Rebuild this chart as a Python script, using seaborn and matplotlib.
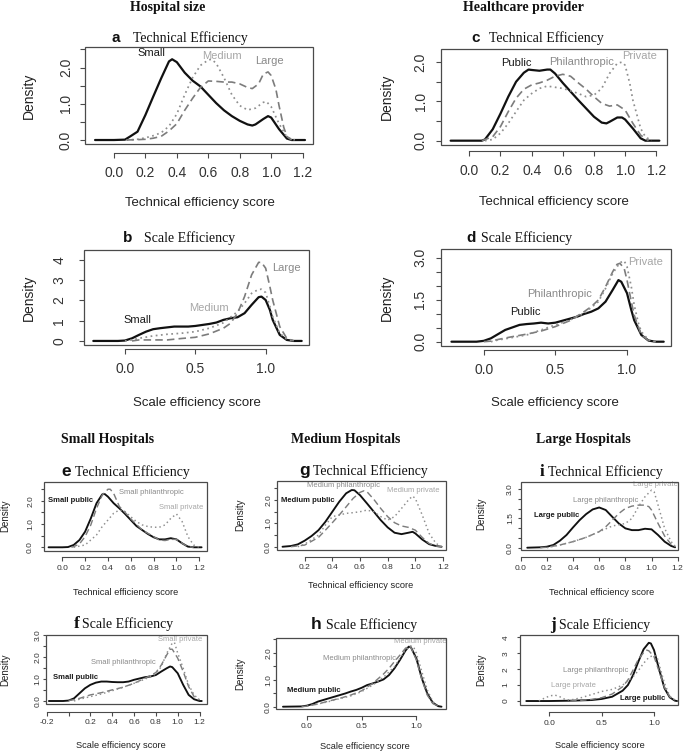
import matplotlib
matplotlib.use("Agg")
import matplotlib.pyplot as plt
from matplotlib.patches import Rectangle
import pandas as pd
import seaborn as sns

# ------------------------------------------------------------------ data
# Tick values / labels
TE_XTICKS = [0.0, 0.2, 0.4, 0.6, 0.8, 1.0, 1.2]
TE_XLABELS = ["0.0", "0.2", "0.4", "0.6", "0.8", "1.0", "1.2"]
SE_XTICKS = [0.0, 0.5, 1.0]
SE_XLABELS = ["0.0", "0.5", "1.0"]
G_XTICKS = [0.2, 0.4, 0.6, 0.8, 1.0, 1.2]
G_XLABELS = ["0.2", "0.4", "0.6", "0.8", "1.0", "1.2"]
F_XTICKS = [-0.2, 0.0, 0.2, 0.4, 0.6, 0.8, 1.0, 1.2]
F_XLABELS = ["-0.2", "", "0.2", "0.4", "0.6", "0.8", "1.0", "1.2"]

Y25_TICKS = [0.0, 0.5, 1.0, 1.5, 2.0, 2.5]
Y25_LABELS = ["0.0", "", "1.0", "", "2.0", ""]
Y20_TICKS = [0.0, 0.5, 1.0, 1.5, 2.0]
Y20_LABELS = ["0.0", "", "1.0", "", "2.0"]
Y4_TICKS = [0, 1, 2, 3, 4]
Y4_LABELS = ["0", "1", "2", "3", "4"]
Y30_TICKS = [0.0, 0.5, 1.0, 1.5, 2.0, 2.5, 3.0]
Y30_LABELS = ["0.0", "", "", "1.5", "", "", "3.0"]
Y30F_LABELS = ["0.0", "", "1.0", "", "2.0", "", "3.0"]

# a  Technical efficiency by hospital size
A_SMALL_X = [-0.12, 0.0, 0.07, 0.10, 0.15, 0.20, 0.25, 0.30, 0.35, 0.37, 0.40, 0.45, 0.50, 0.55, 0.60, 0.65, 0.70, 0.75, 0.80, 0.85, 0.88, 0.90, 0.95, 0.98, 1.00, 1.05, 1.10, 1.13, 1.215]
A_SMALL_Y = [0, 0, 0.01, 0.09, 0.23, 0.69, 1.20, 1.70, 2.17, 2.23, 2.15, 1.86, 1.64, 1.48, 1.25, 1.02, 0.82, 0.66, 0.53, 0.43, 0.40, 0.43, 0.58, 0.66, 0.62, 0.30, 0.04, 0.0, 0.0]
A_MED_X = [0.08, 0.15, 0.20, 0.25, 0.30, 0.35, 0.40, 0.45, 0.50, 0.55, 0.60, 0.62, 0.65, 0.70, 0.75, 0.80, 0.85, 0.90, 0.95, 0.97, 1.00, 1.05, 1.10, 1.15]
A_MED_Y = [0, 0.02, 0.06, 0.12, 0.20, 0.38, 0.72, 1.25, 1.72, 2.06, 2.21, 2.23, 2.12, 1.72, 1.25, 0.95, 0.83, 0.88, 1.04, 1.06, 0.92, 0.45, 0.08, 0.0]
A_LARGE_X = [0.08, 0.15, 0.20, 0.25, 0.30, 0.35, 0.40, 0.45, 0.50, 0.55, 0.60, 0.65, 0.70, 0.75, 0.80, 0.85, 0.88, 0.92, 0.95, 0.98, 1.00, 1.03, 1.05, 1.08, 1.10, 1.13]
A_LARGE_Y = [0, 0.01, 0.02, 0.05, 0.10, 0.25, 0.45, 0.82, 1.15, 1.45, 1.63, 1.62, 1.60, 1.60, 1.55, 1.45, 1.42, 1.55, 1.82, 1.88, 1.78, 1.40, 0.95, 0.35, 0.10, 0.0]

# c  Technical efficiency by provider
C_PUB_X = [-0.12, 0.0, 0.08, 0.10, 0.15, 0.20, 0.25, 0.30, 0.35, 0.38, 0.40, 0.45, 0.50, 0.52, 0.55, 0.60, 0.65, 0.70, 0.75, 0.80, 0.85, 0.88, 0.90, 0.95, 0.98, 1.00, 1.05, 1.10, 1.13, 1.22]
C_PUB_Y = [0, 0, 0, 0.03, 0.29, 0.69, 1.12, 1.50, 1.73, 1.81, 1.80, 1.78, 1.81, 1.81, 1.71, 1.47, 1.25, 1.03, 0.82, 0.61, 0.46, 0.44, 0.48, 0.59, 0.59, 0.54, 0.31, 0.06, 0.0, 0.0]
C_PHIL_X = [0.08, 0.15, 0.20, 0.25, 0.30, 0.35, 0.40, 0.45, 0.50, 0.55, 0.60, 0.65, 0.70, 0.75, 0.80, 0.85, 0.90, 0.95, 1.00, 1.05, 1.10, 1.15]
C_PHIL_Y = [0, 0.10, 0.36, 0.74, 1.08, 1.31, 1.42, 1.47, 1.54, 1.64, 1.69, 1.64, 1.47, 1.31, 1.12, 0.95, 0.88, 0.91, 0.78, 0.44, 0.14, 0.0]
C_PRIV_X = [0.10, 0.15, 0.20, 0.25, 0.30, 0.35, 0.40, 0.45, 0.50, 0.55, 0.60, 0.65, 0.70, 0.75, 0.80, 0.85, 0.90, 0.95, 0.98, 1.00, 1.03, 1.05, 1.10, 1.13, 1.17]
C_PRIV_Y = [0, 0.03, 0.19, 0.44, 0.74, 1.03, 1.20, 1.33, 1.39, 1.36, 1.33, 1.27, 1.20, 1.12, 1.16, 1.33, 1.71, 1.97, 2.00, 1.92, 1.46, 1.03, 0.31, 0.10, 0.0]

# b  Scale efficiency by hospital size
B_SMALL_X = [-0.225, -0.05, 0.0, 0.05, 0.10, 0.15, 0.20, 0.25, 0.30, 0.35, 0.40, 0.45, 0.50, 0.55, 0.60, 0.65, 0.70, 0.75, 0.80, 0.85, 0.90, 0.95, 0.97, 1.00, 1.03, 1.05, 1.10, 1.15, 1.20, 1.256]
B_SMALL_Y = [0, 0, 0.02, 0.13, 0.30, 0.46, 0.58, 0.63, 0.67, 0.71, 0.71, 0.71, 0.74, 0.79, 0.84, 0.91, 1.04, 1.12, 1.17, 1.37, 1.78, 2.16, 2.19, 2.02, 1.53, 1.04, 0.30, 0.05, 0.0, 0.0]
B_MED_X = [0.0, 0.05, 0.10, 0.20, 0.30, 0.40, 0.50, 0.60, 0.70, 0.75, 0.80, 0.85, 0.90, 0.95, 0.97, 1.00, 1.03, 1.05, 1.10, 1.15, 1.20]
B_MED_Y = [0, 0.05, 0.13, 0.25, 0.33, 0.38, 0.46, 0.63, 0.90, 1.17, 1.45, 1.86, 2.35, 2.55, 2.55, 2.39, 1.70, 1.20, 0.38, 0.08, 0.0]
B_LARGE_X = [0.05, 0.10, 0.20, 0.30, 0.40, 0.50, 0.60, 0.70, 0.75, 0.80, 0.85, 0.90, 0.95, 0.97, 1.00, 1.03, 1.05, 1.10, 1.15, 1.20]
B_LARGE_Y = [0, 0.05, 0.05, 0.05, 0.12, 0.18, 0.35, 0.63, 0.87, 1.37, 2.19, 3.26, 3.88, 3.88, 3.59, 2.68, 2.02, 0.71, 0.13, 0.0]

# d  Scale efficiency by provider
D_PUB_X = [-0.225, -0.05, 0.0, 0.05, 0.10, 0.15, 0.20, 0.25, 0.30, 0.35, 0.40, 0.45, 0.50, 0.55, 0.60, 0.65, 0.70, 0.75, 0.80, 0.85, 0.90, 0.94, 0.96, 1.00, 1.03, 1.05, 1.10, 1.15, 1.20, 1.256]
D_PUB_Y = [0, 0, 0.03, 0.12, 0.27, 0.42, 0.51, 0.60, 0.63, 0.65, 0.68, 0.65, 0.68, 0.75, 0.82, 0.89, 0.99, 1.07, 1.19, 1.43, 1.85, 2.20, 2.14, 1.73, 1.13, 0.77, 0.24, 0.04, 0.0, 0.0]
D_PHIL_X = [0.0, 0.05, 0.10, 0.20, 0.30, 0.40, 0.50, 0.60, 0.70, 0.75, 0.80, 0.85, 0.90, 0.93, 0.95, 0.98, 1.00, 1.03, 1.05, 1.10, 1.15, 1.20]
D_PHIL_Y = [0, 0.02, 0.08, 0.18, 0.27, 0.38, 0.54, 0.75, 1.07, 1.25, 1.49, 1.96, 2.50, 2.76, 2.80, 2.62, 2.20, 1.43, 0.95, 0.24, 0.04, 0.0]
D_PRIV_X = [0.05, 0.10, 0.20, 0.30, 0.40, 0.50, 0.60, 0.70, 0.80, 0.85, 0.90, 0.95, 0.98, 1.00, 1.03, 1.05, 1.08, 1.10, 1.15, 1.20]
D_PRIV_Y = [0, 0.06, 0.15, 0.24, 0.42, 0.60, 0.77, 1.01, 1.43, 1.90, 2.44, 2.82, 2.89, 2.68, 1.96, 1.31, 0.65, 0.36, 0.06, 0.0]

# e  Small hospitals, technical efficiency
E_PUB_X = [-0.12, 0.0, 0.05, 0.10, 0.15, 0.20, 0.25, 0.30, 0.35, 0.37, 0.40, 0.45, 0.50, 0.55, 0.60, 0.65, 0.70, 0.75, 0.80, 0.85, 0.90, 0.95, 1.00, 1.05, 1.10, 1.15, 1.22]
E_PUB_Y = [0, 0, 0.01, 0.10, 0.31, 0.67, 1.24, 1.89, 2.27, 2.29, 2.17, 1.89, 1.67, 1.43, 1.17, 0.91, 0.74, 0.57, 0.43, 0.34, 0.34, 0.39, 0.34, 0.17, 0.03, 0.0, 0.0]
E_PHIL_X = [0.08, 0.10, 0.15, 0.20, 0.25, 0.30, 0.35, 0.40, 0.42, 0.45, 0.50, 0.55, 0.60, 0.70, 0.80, 0.85, 0.90, 0.95, 1.00, 1.05, 1.10, 1.15]
E_PHIL_Y = [0, 0.03, 0.14, 0.46, 0.96, 1.67, 2.24, 2.49, 2.49, 2.31, 1.75, 1.50, 1.22, 0.74, 0.46, 0.31, 0.29, 0.34, 0.34, 0.17, 0.03, 0.0]
E_PRIV_X = [0.10, 0.20, 0.30, 0.35, 0.40, 0.45, 0.50, 0.55, 0.60, 0.65, 0.70, 0.75, 0.80, 0.85, 0.90, 0.95, 1.00, 1.05, 1.10, 1.15, 1.20]
E_PRIV_Y = [0, 0.10, 0.53, 0.89, 1.17, 1.46, 1.60, 1.53, 1.31, 1.10, 0.96, 0.89, 0.86, 0.86, 0.96, 1.24, 1.43, 1.10, 0.46, 0.10, 0.0]

# g  Medium hospitals, technical efficiency
G_PUB_X = [0.04, 0.10, 0.15, 0.20, 0.25, 0.30, 0.35, 0.40, 0.45, 0.50, 0.54, 0.56, 0.60, 0.65, 0.70, 0.75, 0.80, 0.85, 0.90, 0.95, 0.98, 1.00, 1.05, 1.10, 1.15, 1.19]
G_PUB_Y = [0, 0.03, 0.10, 0.26, 0.46, 0.71, 1.07, 1.50, 1.93, 2.29, 2.43, 2.42, 2.21, 1.86, 1.50, 1.14, 0.83, 0.60, 0.54, 0.60, 0.64, 0.57, 0.31, 0.11, 0.03, 0.0]
G_PHIL_X = [0.10, 0.20, 0.30, 0.35, 0.40, 0.45, 0.50, 0.55, 0.60, 0.63, 0.65, 0.70, 0.75, 0.80, 0.85, 0.90, 0.95, 1.00, 1.05, 1.10, 1.15, 1.19]
G_PHIL_Y = [0, 0.07, 0.40, 0.71, 1.03, 1.36, 1.71, 2.07, 2.33, 2.40, 2.36, 2.03, 1.64, 1.29, 1.03, 0.89, 0.83, 0.71, 0.40, 0.14, 0.03, 0.0]
G_PRIV_X = [0.15, 0.20, 0.30, 0.35, 0.40, 0.45, 0.50, 0.55, 0.60, 0.65, 0.70, 0.75, 0.80, 0.85, 0.90, 0.95, 0.98, 1.00, 1.05, 1.10, 1.15, 1.19]
G_PRIV_Y = [0, 0.11, 0.50, 0.93, 1.29, 1.36, 1.43, 1.46, 1.50, 1.57, 1.50, 1.29, 1.14, 1.29, 1.64, 2.00, 2.17, 2.07, 1.36, 0.57, 0.14, 0.0]

# i  Large hospitals, technical efficiency
I_PUB_X = [0.05, 0.15, 0.20, 0.25, 0.30, 0.35, 0.40, 0.45, 0.50, 0.55, 0.60, 0.65, 0.70, 0.75, 0.80, 0.85, 0.90, 0.95, 1.00, 1.05, 1.10, 1.15, 1.18]
I_PUB_Y = [0.0, 0.02, 0.05, 0.14, 0.36, 0.65, 1.04, 1.41, 1.72, 1.96, 2.06, 1.93, 1.58, 1.24, 0.99, 0.90, 0.90, 0.97, 0.94, 0.65, 0.31, 0.09, 0.02]
I_PHIL_X = [0.15, 0.20, 0.30, 0.40, 0.50, 0.60, 0.65, 0.70, 0.75, 0.80, 0.85, 0.90, 0.95, 0.98, 1.00, 1.05, 1.10, 1.15, 1.18]
I_PHIL_Y = [0, 0.02, 0.14, 0.31, 0.53, 0.82, 1.07, 1.41, 1.75, 2.01, 2.13, 2.18, 2.18, 2.10, 1.93, 1.24, 0.60, 0.17, 0.05]
I_PRIV_X = [0.20, 0.30, 0.40, 0.50, 0.60, 0.70, 0.80, 0.85, 0.90, 0.95, 1.00, 1.02, 1.05, 1.10, 1.15, 1.18]
I_PRIV_Y = [0, 0.14, 0.31, 0.53, 0.82, 1.11, 1.24, 1.50, 2.10, 2.61, 2.95, 2.86, 2.18, 0.99, 0.31, 0.09]

# f  Small hospitals, scale efficiency
F_PUB_X = [-0.18, -0.05, 0.0, 0.05, 0.10, 0.15, 0.20, 0.25, 0.30, 0.35, 0.40, 0.45, 0.50, 0.55, 0.60, 0.65, 0.70, 0.75, 0.80, 0.85, 0.90, 0.93, 0.95, 1.00, 1.05, 1.10, 1.15, 1.20, 1.22]
F_PUB_Y = [0, 0, 0.02, 0.12, 0.35, 0.58, 0.74, 0.84, 0.89, 0.89, 0.87, 0.86, 0.86, 0.89, 0.97, 1.03, 1.09, 1.12, 1.19, 1.35, 1.50, 1.58, 1.55, 1.27, 0.74, 0.28, 0.08, 0.0, 0.0]
F_PHIL_X = [0.0, 0.05, 0.10, 0.20, 0.30, 0.40, 0.50, 0.60, 0.70, 0.80, 0.85, 0.90, 0.93, 0.95, 1.00, 1.05, 1.10, 1.15, 1.20]
F_PHIL_Y = [0.02, 0.06, 0.12, 0.28, 0.38, 0.51, 0.63, 0.81, 1.04, 1.30, 1.65, 2.11, 2.37, 2.37, 1.96, 1.35, 0.66, 0.20, 0.05]
F_PRIV_X = [0.05, 0.10, 0.20, 0.30, 0.40, 0.50, 0.60, 0.70, 0.80, 0.85, 0.90, 0.95, 0.97, 1.00, 1.05, 1.10, 1.15, 1.20]
F_PRIV_Y = [0, 0.08, 0.20, 0.32, 0.47, 0.63, 0.81, 1.00, 1.24, 1.58, 2.19, 2.65, 2.68, 2.19, 1.50, 0.74, 0.28, 0.05]

# h  Medium hospitals, scale efficiency
H_PUB_X = [-0.22, -0.05, 0.0, 0.05, 0.10, 0.15, 0.20, 0.25, 0.30, 0.35, 0.40, 0.45, 0.50, 0.55, 0.60, 0.65, 0.70, 0.75, 0.80, 0.85, 0.90, 0.93, 0.95, 1.00, 1.05, 1.10, 1.15, 1.20, 1.23]
H_PUB_Y = [0, 0.01, 0.04, 0.10, 0.19, 0.25, 0.31, 0.37, 0.43, 0.49, 0.56, 0.62, 0.70, 0.80, 0.86, 0.93, 1.01, 1.17, 1.42, 1.73, 2.07, 2.22, 2.20, 1.79, 1.05, 0.49, 0.15, 0.02, 0.0]
H_PHIL_X = [-0.05, 0.0, 0.10, 0.20, 0.30, 0.40, 0.50, 0.60, 0.70, 0.75, 0.80, 0.85, 0.90, 0.93, 0.95, 1.00, 1.05, 1.10, 1.15, 1.20]
H_PHIL_Y = [0, 0.02, 0.10, 0.21, 0.31, 0.43, 0.59, 0.86, 1.21, 1.42, 1.67, 1.91, 2.16, 2.25, 2.20, 1.73, 1.01, 0.43, 0.12, 0.02]
H_PRIV_X = [0.0, 0.10, 0.20, 0.30, 0.40, 0.50, 0.60, 0.70, 0.80, 0.85, 0.90, 0.95, 0.98, 1.00, 1.05, 1.10, 1.15, 1.20]
H_PRIV_Y = [0.02, 0.10, 0.19, 0.30, 0.40, 0.56, 0.80, 1.09, 1.48, 1.79, 2.10, 2.25, 2.16, 1.98, 1.30, 0.62, 0.19, 0.02]

# j  Large hospitals, scale efficiency
J_PUB_X = [-0.22, 0.0, 0.20, 0.30, 0.40, 0.50, 0.60, 0.70, 0.75, 0.80, 0.85, 0.90, 0.95, 0.97, 1.00, 1.05, 1.10, 1.15, 1.20, 1.22]
J_PUB_Y = [0, 0, 0.02, 0.04, 0.06, 0.13, 0.27, 0.65, 1.00, 1.63, 2.47, 3.25, 3.66, 3.62, 3.20, 1.95, 0.80, 0.23, 0.02, 0.0]
J_PHIL_X = [0.20, 0.30, 0.40, 0.50, 0.60, 0.70, 0.75, 0.80, 0.85, 0.90, 0.93, 0.95, 1.00, 1.05, 1.10, 1.15, 1.20]
J_PHIL_Y = [0, 0.04, 0.10, 0.21, 0.44, 0.90, 1.32, 1.95, 2.62, 3.04, 3.20, 3.16, 2.79, 1.84, 0.86, 0.27, 0.06]
J_PRIV_X = [-0.10, -0.05, 0.0, 0.05, 0.10, 0.15, 0.20, 0.30, 0.40, 0.50, 0.60, 0.70, 0.80, 0.85, 0.90, 0.95, 1.00, 1.03, 1.05, 1.10, 1.15, 1.20]
J_PRIV_Y = [0, 0.17, 0.31, 0.38, 0.27, 0.10, 0.06, 0.20, 0.40, 0.60, 0.73, 1.00, 1.53, 1.91, 2.37, 2.74, 2.89, 2.74, 2.26, 1.11, 0.31, 0.06]

# ------------------------------------------------------------------ style
sns.set_theme(style="white")
plt.rcParams["font.family"] = ["Liberation Sans", "DejaVu Sans"]
SERIF = ["Liberation Serif", "DejaVu Serif"]
SANS = ["Liberation Sans", "DejaVu Sans"]

W, H = 685, 752
fig = plt.figure(figsize=(W / 100, H / 100), dpi=100)
fig.patch.set_facecolor("white")

STY = {
    "solid": dict(color="#111111", lw=1.6, dash=""),
    "dashed": dict(color="#7c7c7c", lw=1.2, dash=(4.5, 2.5)),
    "dotted": dict(color="#8e8e8e", lw=1.25, dash=(1, 2.0)),
}
LABEL_COLOR = {"solid": "#1a1a1a", "dashed": "#8a8a8a", "dotted": "#a6a6a6"}
AX_COLOR = "#4a4a4a"


def pt(px):
    return px * 0.72


def ftext(x, y, s, **kw):
    fig.text(x / W, 1 - y / H, s, **kw)


def panel(cfg):
    l, t, r, b = cfg["box"]
    big = cfg["big"]
    ax = fig.add_axes([l / W, 1 - b / H, (r - l) / W, (b - t) / H])
    frames = []
    for name, kind, xs, ys in cfg["curves"]:
        frames.append(pd.DataFrame({"score": xs, "density": ys, "curve": name}))
    df = pd.concat(frames, ignore_index=True)
    names = [c[0] for c in cfg["curves"]]
    kinds = {c[0]: c[1] for c in cfg["curves"]}
    lwscale = 1.0 if big else 0.85
    sns.lineplot(
        data=df, x="score", y="density", hue="curve", style="curve", size="curve",
        hue_order=names, style_order=names, size_order=names,
        palette={n: STY[kinds[n]]["color"] for n in names},
        dashes={n: STY[kinds[n]]["dash"] for n in names},
        sizes={n: STY[kinds[n]]["lw"] * lwscale for n in names},
        estimator=None, sort=False, legend=False, ax=ax,
    )
    ax.set_xlim(*cfg["xlim"])
    ax.set_ylim(*cfg["ylim"])
    ax.set_xlabel("")
    ax.set_ylabel("")
    ax.grid(False)
    ax.set_facecolor("white")
    ax.set_xticks(cfg["xt"], cfg["xtl"])
    ax.set_yticks(cfg["yt"], cfg["ytl"])
    for s in ["left", "top", "right"]:
        ax.spines[s].set_visible(False)
    sp = ax.spines["bottom"]
    sp.set_visible(True)
    sp.set_position(("outward", pt(cfg["gap"])))
    sp.set_bounds(cfg["xt"][0], cfg["xt"][-1])
    sp.set_color(AX_COLOR)
    sp.set_linewidth(0.8)
    ax.add_patch(Rectangle((0, 0), 1, 1, transform=ax.transAxes, fill=False,
                           edgecolor=AX_COLOR, lw=0.9, clip_on=False, zorder=5))
    tl = 5 if big else 3.5
    fs = 10 if big else 6
    ax.tick_params(axis="both", which="both", bottom=True, left=True, direction="out",
                   length=pt(tl), width=0.8, color=AX_COLOR, labelsize=fs,
                   labelcolor="#333333")
    ax.tick_params(axis="x", pad=pt(8 if big else 4))
    ax.tick_params(axis="y", pad=pt(cfg["ypad"]), labelrotation=90)
    for lab in ax.get_yticklabels():
        lab.set_va("center")
    # curve labels
    lfs = 8 if big else 5.5
    for (txt, kind, x, y) in cfg["labels"]:
        ax.text(x, y, txt, ha="center", va="center", fontsize=lfs,
                color=LABEL_COLOR[kind],
                fontweight=("bold" if (kind == "solid" and not big) else "normal"))
    # axis titles
    xl, yl = cfg["xlab_pos"], cfg["ylab_pos"]
    ftext(xl[0], xl[1], cfg["xlabel"], ha="center", va="center",
          fontsize=9.5 if big else 6.7, color="#222222")
    ftext(yl[0], yl[1], "Density", ha="center", va="center", rotation=90,
          fontsize=10 if big else 7, color="#222222")
    # panel title
    lx, by = cfg["letter_pos"]
    ftext(lx, by, cfg["letter"], ha="left", va="baseline", fontweight="bold",
          fontsize=11 if big else 12.5,
          family=(SERIF if cfg.get("letter_serif") else SANS), color="#111111")
    ftext(cfg["title_x"], by, cfg["title"], ha="left", va="baseline",
          fontsize=10, family=SERIF, color="#111111")
    return ax


TE = "Technical efficiency score"
SE = "Scale efficiency score"
TEF = "Technical Efficiency"
SEF = "Scale Efficiency"

panels = [
    dict(box=(85, 47.3, 313, 144), xlim=(-0.184, 1.266), ylim=(-0.11, 2.56),
         xt=TE_XTICKS, xtl=TE_XLABELS, yt=Y25_TICKS, ytl=Y25_LABELS, gap=9, ypad=7, big=True,
         curves=[("Small", "solid", A_SMALL_X, A_SMALL_Y),
                 ("Medium", "dotted", A_MED_X, A_MED_Y),
                 ("Large", "dashed", A_LARGE_X, A_LARGE_Y)],
         labels=[("Small", "solid", 0.24, 2.40), ("Medium", "dotted", 0.69, 2.33),
                 ("Large", "dashed", 0.99, 2.17)],
         xlabel=TE, xlab_pos=(200, 203), ylab_pos=(29.3, 95.5),
         letter="a", letter_pos=(111.7, 42), title=TEF, title_x=133.3),
    dict(box=(441.3, 49.3, 667, 145), xlim=(-0.18, 1.269), ylim=(-0.11, 2.326),
         xt=TE_XTICKS, xtl=TE_XLABELS, yt=Y20_TICKS, ytl=Y20_LABELS, gap=6, ypad=8.7, big=True,
         curves=[("Public", "solid", C_PUB_X, C_PUB_Y),
                 ("Philanthropic", "dashed", C_PHIL_X, C_PHIL_Y),
                 ("Private", "dotted", C_PRIV_X, C_PRIV_Y)],
         labels=[("Public", "solid", 0.30, 1.98), ("Philanthropic", "dashed", 0.72, 2.0),
                 ("Private", "dotted", 1.09, 2.15)],
         xlabel=TE, xlab_pos=(554, 201.7), ylab_pos=(387, 97),
         letter="c", letter_pos=(471, 41.7), title=TEF, title_x=488.7),
    dict(box=(84.3, 250, 309, 345), xlim=(-0.289, 1.308), ylim=(-0.2, 4.49),
         xt=SE_XTICKS, xtl=SE_XLABELS, yt=Y4_TICKS, ytl=Y4_LABELS, gap=4, ypad=13, big=True,
         curves=[("Small", "solid", B_SMALL_X, B_SMALL_Y),
                 ("Medium", "dotted", B_MED_X, B_MED_Y),
                 ("Large", "dashed", B_LARGE_X, B_LARGE_Y)],
         labels=[("Small", "solid", 0.09, 1.04), ("Medium", "dotted", 0.60, 1.65),
                 ("Large", "dashed", 1.15, 3.62)],
         xlabel=SE, xlab_pos=(196.7, 402.7), ylab_pos=(29.3, 297.5),
         letter="b", letter_pos=(123, 241.7), title=SEF, title_x=144),
    dict(box=(441.3, 249.3, 671.3, 345.7), xlim=(-0.296, 1.309), ylim=(-0.143, 3.3),
         xt=SE_XTICKS, xtl=SE_XLABELS, yt=Y30_TICKS, ytl=Y30_LABELS, gap=4, ypad=9, big=True,
         curves=[("Public", "solid", D_PUB_X, D_PUB_Y),
                 ("Philanthropic", "dashed", D_PHIL_X, D_PHIL_Y),
                 ("Private", "dotted", D_PRIV_X, D_PRIV_Y)],
         labels=[("Public", "solid", 0.29, 1.07), ("Philanthropic", "dashed", 0.53, 1.70),
                 ("Private", "dotted", 1.13, 2.83)],
         xlabel=SE, xlab_pos=(555, 403), ylab_pos=(387, 297.5),
         letter="d", letter_pos=(466, 241.7), title=SEF, title_x=481),
    dict(box=(44, 482, 207.3, 550.7), xlim=(-0.16, 1.27), ylim=(-0.146, 2.8),
         xt=TE_XTICKS, xtl=TE_XLABELS, yt=Y25_TICKS, ytl=Y25_LABELS, gap=6.6, ypad=6.4, big=False,
         curves=[("Small public", "solid", E_PUB_X, E_PUB_Y),
                 ("Small philanthropic", "dashed", E_PHIL_X, E_PHIL_Y),
                 ("Small private", "dotted", E_PRIV_X, E_PRIV_Y)],
         labels=[("Small public", "solid", 0.075, 1.99),
                 ("Small philanthropic", "dashed", 0.78, 2.36),
                 ("Small private", "dotted", 1.04, 1.70)],
         xlabel=TE, xlab_pos=(126, 592.7), ylab_pos=(5, 516),
         letter="e", letter_pos=(61.7, 475.7), title=TEF, title_x=75),
    dict(box=(277, 480.7, 446.3, 550), xlim=(0.0, 1.224), ylim=(-0.14, 2.83),
         xt=G_XTICKS, xtl=G_XLABELS, yt=Y25_TICKS, ytl=Y25_LABELS, gap=6.7, ypad=1.4, big=False,
         curves=[("Medium public", "solid", G_PUB_X, G_PUB_Y),
                 ("Medium philanthropic", "dashed", G_PHIL_X, G_PHIL_Y),
                 ("Medium private", "dotted", G_PRIV_X, G_PRIV_Y)],
         labels=[("Medium public", "solid", 0.224, 2.0),
                 ("Medium philanthropic", "dashed", 0.484, 2.64),
                 ("Medium private", "dotted", 0.983, 2.40)],
         xlabel=TE, xlab_pos=(360.7, 585), ylab_pos=(240.7, 515),
         letter="g", letter_pos=(299, 475.5), title=TEF, title_x=313),
    dict(box=(520.7, 481.7, 677.7, 550), xlim=(0.0, 1.2), ylim=(-0.118, 3.38),
         xt=TE_XTICKS, xtl=TE_XLABELS, yt=Y30_TICKS, ytl=Y30_LABELS, gap=7, ypad=3.1, big=False,
         curves=[("Large public", "solid", I_PUB_X, I_PUB_Y),
                 ("Large philanthropic", "dashed", I_PHIL_X, I_PHIL_Y),
                 ("Large private", "dotted", I_PRIV_X, I_PRIV_Y)],
         labels=[("Large public", "solid", 0.277, 1.67),
                 ("Large philanthropic", "dashed", 0.653, 2.44),
                 ("Large private", "dotted", 1.032, 3.22)],
         xlabel=TE, xlab_pos=(601.7, 592.7), ylab_pos=(481, 514),
         letter="i", letter_pos=(540, 476), title=TEF, title_x=547.7, letter_serif=True),
    dict(box=(45.7, 635, 207.3, 704), xlim=(-0.209, 1.271), ylim=(-0.137, 3.02),
         xt=F_XTICKS, xtl=F_XLABELS, yt=Y30_TICKS, ytl=Y30F_LABELS, gap=7.7, ypad=0.5, big=False,
         curves=[("Small public", "solid", F_PUB_X, F_PUB_Y),
                 ("Small philanthropic", "dashed", F_PHIL_X, F_PHIL_Y),
                 ("Small private", "dotted", F_PRIV_X, F_PRIV_Y)],
         labels=[("Small public", "solid", 0.06, 1.07),
                 ("Small philanthropic", "dashed", 0.50, 1.78),
                 ("Small private", "dotted", 1.02, 2.83)],
         xlabel=SE, xlab_pos=(120.7, 745.7), ylab_pos=(5, 670),
         letter="f", letter_pos=(74, 628.3), title=SEF, title_x=81.7, letter_serif=True),
    dict(box=(276.3, 638.3, 446.3, 709.3), xlim=(-0.281, 1.274), ylim=(-0.096, 2.53),
         xt=SE_XTICKS, xtl=SE_XLABELS, yt=Y25_TICKS, ytl=Y25_LABELS, gap=6.7, ypad=0.7, big=False,
         curves=[("Medium public", "solid", H_PUB_X, H_PUB_Y),
                 ("Medium philanthropic", "dashed", H_PHIL_X, H_PHIL_Y),
                 ("Medium private", "dotted", H_PRIV_X, H_PRIV_Y)],
         labels=[("Medium public", "solid", 0.06, 0.59),
                 ("Medium philanthropic", "dashed", 0.48, 1.77),
                 ("Medium private", "dotted", 1.04, 2.41)],
         xlabel=SE, xlab_pos=(364.7, 746.7), ylab_pos=(240.7, 674),
         letter="h", letter_pos=(311, 629), title=SEF, title_x=326),
    dict(box=(520, 635, 677.7, 705), xlim=(-0.28, 1.226), ylim=(-0.25, 4.15),
         xt=SE_XTICKS, xtl=SE_XLABELS, yt=Y4_TICKS, ytl=Y4_LABELS, gap=7.3, ypad=6.7, big=False,
         curves=[("Large public", "solid", J_PUB_X, J_PUB_Y),
                 ("Large philanthropic", "dashed", J_PHIL_X, J_PHIL_Y),
                 ("Large private", "dotted", J_PRIV_X, J_PRIV_Y)],
         labels=[("Large philanthropic", "dashed", 0.44, 1.91),
                 ("Large private", "dotted", 0.23, 1.0),
                 ("Large public", "solid", 0.89, 0.15)],
         xlabel=SE, xlab_pos=(600, 745.7), ylab_pos=(481, 670),
         letter="j", letter_pos=(550, 629), title=SEF, title_x=559, letter_serif=True),
]

for cfg in panels:
    panel(cfg)

# section headers
for txt, x, y in [("Hospital size", 168, 7.5), ("Healthcare provider", 523.7, 7.5),
                  ("Small Hospitals", 108, 439), ("Medium Hospitals", 346, 439),
                  ("Large Hospitals", 583.7, 439)]:
    ftext(x, y, txt, ha="center", va="center", fontsize=10, fontweight="bold",
          family=SERIF, color="#111111")

fig.savefig("out.png", dpi=100, facecolor="white")
